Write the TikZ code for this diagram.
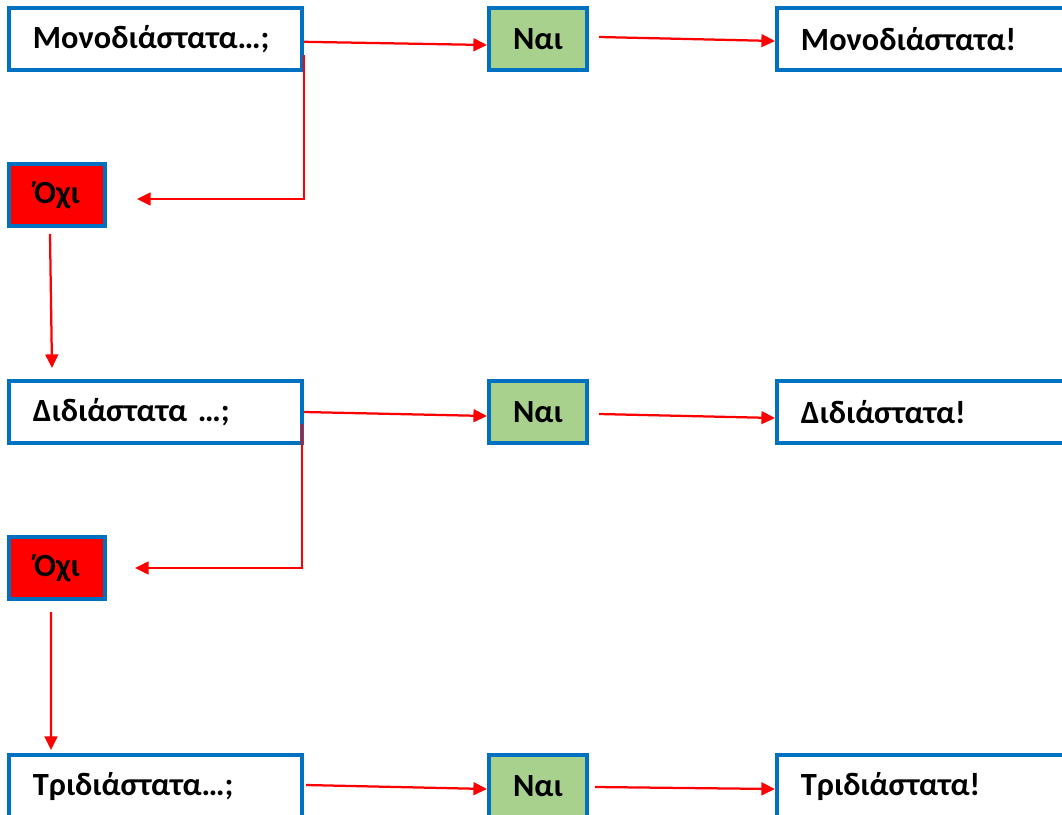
\documentclass[tikz,border=0pt]{standalone}
\usepackage{fontspec}
\setmainfont{Carlito}
\usepackage{tikz}
\usetikzlibrary{arrows.meta}
\definecolor{boxblue}{HTML}{0070C0}
\definecolor{yesgreen}{HTML}{A9D18E}

\begin{document}
\begin{tikzpicture}[x=0.025cm,y=-0.025cm,
  every node/.style={font=\fontsize{23}{27}\selectfont\bfseries},
  question/.style={draw=boxblue,line width=2.8pt,fill=white,minimum height=1.55cm,
    text width=6.125cm,inner xsep=0.6cm,align=left},
  yes/.style={draw=boxblue,line width=2.8pt,fill=yesgreen,minimum height=1.55cm,minimum width=2.45cm},
  no/.style={draw=boxblue,line width=2.8pt,fill=red,minimum height=1.55cm,minimum width=2.4cm},
  flow/.style={draw=red,line width=1.6pt,-{Triangle[length=0.34cm,width=0.32cm]}}]
  \clip (0,0) rectangle (1062,814);
  % row 1
  \node[question] (mono) at (155.5,39) {Μονοδιάστατα…;};
  \node[yes] (nai1) at (538,39) {Ναι};
  \node[question] (monoyes) at (923.5,39) {Μονοδιάστατα!};
  \node[no] (oxi1) at (57,195) {Όχι\hspace{0.2cm}};
  % row 2
  \node[question] (di) at (155.5,412) {Διδιάστατα …;};
  \node[yes] (nai2) at (538,412) {Ναι};
  \node[question] (diyes) at (923.5,412) {Διδιάστατα!};
  \node[no] (oxi2) at (57,568) {Όχι\hspace{0.2cm}};
  % row 3
  \node[question] (tri) at (155.5,786) {Τριδιάστατα…;};
  \node[yes] (nai3) at (538,786) {Ναι};
  \node[question] (triyes) at (923.5,786) {Τριδιάστατα!};

  \draw[flow] ([yshift=-0.07cm]mono.east) -- ([yshift=-0.15cm]nai1.west);
  \draw[flow] ([shift={(0.25cm,0.05cm)}]nai1.east) -- ([yshift=-0.05cm]monoyes.west);
  \draw[flow] ([yshift=-0.4cm]mono.east) |- ([xshift=0.75cm,yshift=-0.1cm]oxi1.east);
  \draw[flow] ([shift={(-0.175cm,-0.15cm)}]oxi1.south) -- ([shift={(1.125cm,0.275cm)}]di.north west);

  \draw[flow] ([yshift=0cm]di.east) -- ([yshift=-0.1cm]nai2.west);
  \draw[flow] ([shift={(0.25cm,-0.05cm)}]nai2.east) -- ([yshift=-0.15cm]diyes.west);
  \draw[flow] ([shift={(-0.05cm,-0.3cm)}]di.east) |- ([xshift=0.7cm]oxi2.east);
  \draw[flow] ([shift={(-0.15cm,-0.28cm)}]oxi2.south) -- ([shift={(1.1cm,0.075cm)}]tri.north west);

  \draw[flow] ([shift={(0.05cm,0.025cm)}]tri.east) -- ([yshift=-0.075cm]nai3.west);
  \draw[flow] ([shift={(0.15cm,-0.025cm)}]nai3.east) -- ([yshift=-0.075cm]triyes.west);
\end{tikzpicture}
\end{document}
